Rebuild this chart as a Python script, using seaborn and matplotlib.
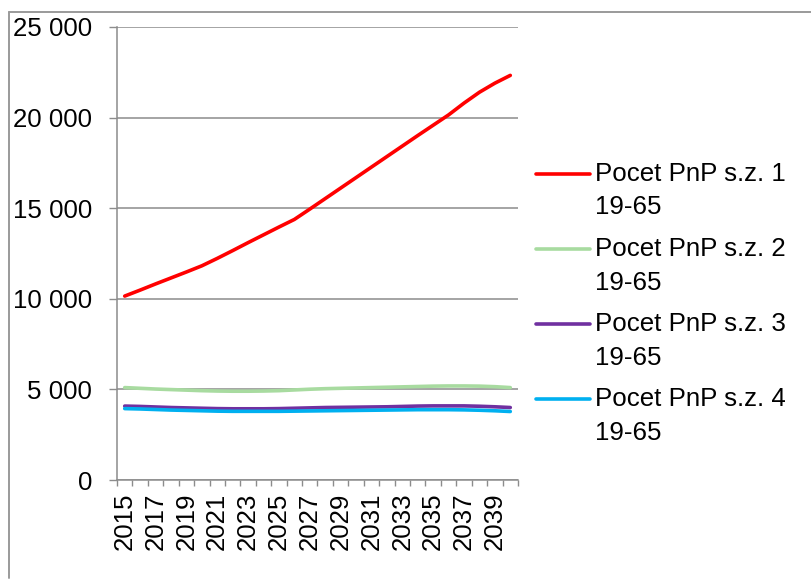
import matplotlib
matplotlib.use("Agg")
import matplotlib.pyplot as plt
import seaborn as sns
import pandas as pd
import numpy as np
from matplotlib.legend_handler import HandlerLine2D
from matplotlib.ticker import FixedLocator, FuncFormatter, NullFormatter
from matplotlib.lines import Line2D

# Počet PnP podle stupně závislosti, věk 19-65
years = list(range(2015, 2041))

sz1 = [10150, 10480, 10820, 11150, 11480, 11820, 12230, 12660, 13100, 13530,
       13960, 14380, 14950, 15530, 16110, 16690, 17270, 17850, 18430, 19010,
       19580, 20150, 20800, 21400, 21900, 22330]
sz2 = [5100, 5060, 5020, 4990, 4960, 4930, 4910, 4900, 4900, 4910,
       4930, 4970, 5010, 5040, 5060, 5080, 5100, 5120, 5140, 5160,
       5180, 5190, 5190, 5180, 5150, 5100]
sz3 = [4080, 4060, 4030, 4000, 3980, 3960, 3940, 3930, 3930, 3930,
       3940, 3960, 3980, 4000, 4010, 4020, 4030, 4040, 4060, 4080,
       4090, 4090, 4090, 4070, 4040, 4000]
sz4 = [3940, 3920, 3890, 3860, 3840, 3820, 3800, 3790, 3790, 3790,
       3790, 3800, 3810, 3820, 3830, 3840, 3850, 3860, 3870, 3880,
       3880, 3880, 3870, 3850, 3820, 3780]

series_names = ["Pocet PnP s.z. 1\n19-65", "Pocet PnP s.z. 2\n19-65",
                "Pocet PnP s.z. 3\n19-65", "Pocet PnP s.z. 4\n19-65"]
colors = ["#FF0000", "#A8DBA0", "#7030A0", "#00B0F0"]
label_years = list(range(2015, 2041, 2))

sns.set_theme(style="white")
plt.rcParams["font.family"] = ["Liberation Sans", "DejaVu Sans"]
plt.rcParams["text.color"] = "black"
FS = 18.6

df = pd.DataFrame({
    "rok": years * 4,
    "pocet": sz1 + sz2 + sz3 + sz4,
    "serie": np.repeat(series_names, len(years)),
})

fig = plt.figure(figsize=(8.11, 5.81), dpi=100)
W, H = 811, 581
ax = fig.add_axes([117 / W, 1 - 480 / H, (518 - 117) / W, (480 - 27) / H])

sns.lineplot(data=df, x="rok", y="pocet", hue="serie", hue_order=series_names,
             palette=colors, linewidth=2.6, ax=ax, legend=False)
for ln in ax.get_lines():
    ln.set_solid_capstyle("round")

grid_c = "#8C8C8C"
ax.set_ylim(0, 25000)
ax.set_yticks(range(0, 25001, 5000))
ax.yaxis.set_major_formatter(FuncFormatter(lambda v, p: f"{int(v):,}".replace(",", " ")))
ax.yaxis.grid(True, color=grid_c, linewidth=1.1)
ax.xaxis.grid(False)
ax.set_axisbelow(True)

ax.set_xlim(years[0] - 0.5, years[-1] + 0.5)
ax.xaxis.set_major_locator(FixedLocator(np.arange(years[0] - 0.5, years[-1] + 1, 1)))
ax.xaxis.set_major_formatter(NullFormatter())
ax.xaxis.set_minor_locator(FixedLocator(label_years))
ax.xaxis.set_minor_formatter(FuncFormatter(lambda v, p: f"{int(round(v))}"))

ax.tick_params(axis="y", which="major", direction="out", length=5.8, width=1,
               color=grid_c, left=True, labelsize=FS, pad=12, labelcolor="black")
ax.tick_params(axis="x", which="major", direction="out", length=4.3, width=1,
               color=grid_c, bottom=True)
ax.tick_params(axis="x", which="minor", length=0, bottom=True, labelsize=FS,
               labelrotation=90, pad=9, labelcolor="black")

for side in ("top", "right"):
    ax.spines[side].set_visible(False)
for side in ("left", "bottom"):
    ax.spines[side].set_color(grid_c)
    ax.spines[side].set_linewidth(1.1)
ax.set_xlabel("")
ax.set_ylabel("")


class TopAlignedLine(HandlerLine2D):
    """Legend line placed level with the first line of a two-line label."""
    def __init__(self, shift, **kw):
        super().__init__(**kw)
        self.shift = shift

    def create_artists(self, legend, orig_handle, xdescent, ydescent, width,
                       height, fontsize, trans):
        arts = super().create_artists(legend, orig_handle, xdescent, ydescent,
                                      width, height, fontsize, trans)
        for a in arts:
            a.set_ydata(np.asarray(a.get_ydata()) + self.shift)
        return arts


handles = ax.get_lines()[:4]
handler = TopAlignedLine(shift=12.5)
leg = ax.legend(handles, series_names, loc="upper left",
                bbox_to_anchor=(536 / W, 1 - 162 / H), bbox_transform=fig.transFigure,
                frameon=False, fontsize=FS, handlelength=2.1, handletextpad=0.2,
                labelspacing=0.68, borderpad=0, borderaxespad=0,
                handler_map={h: handler for h in handles})
for t in leg.get_texts():
    t.set_linespacing(1.5)
    t.set_color("black")

# outer frame of the chart area
frame_c = "#9A9A9A"
fig.add_artist(Line2D([8.5 / W, 1], [1 - 11.5 / H, 1 - 11.5 / H],
                      transform=fig.transFigure, color=frame_c, linewidth=1.4))
fig.add_artist(Line2D([8.5 / W, 8.5 / W], [1 - 11.5 / H, 1 - 578 / H],
                      transform=fig.transFigure, color=frame_c, linewidth=1.4))

fig.savefig("out.png", dpi=100, facecolor="white")
